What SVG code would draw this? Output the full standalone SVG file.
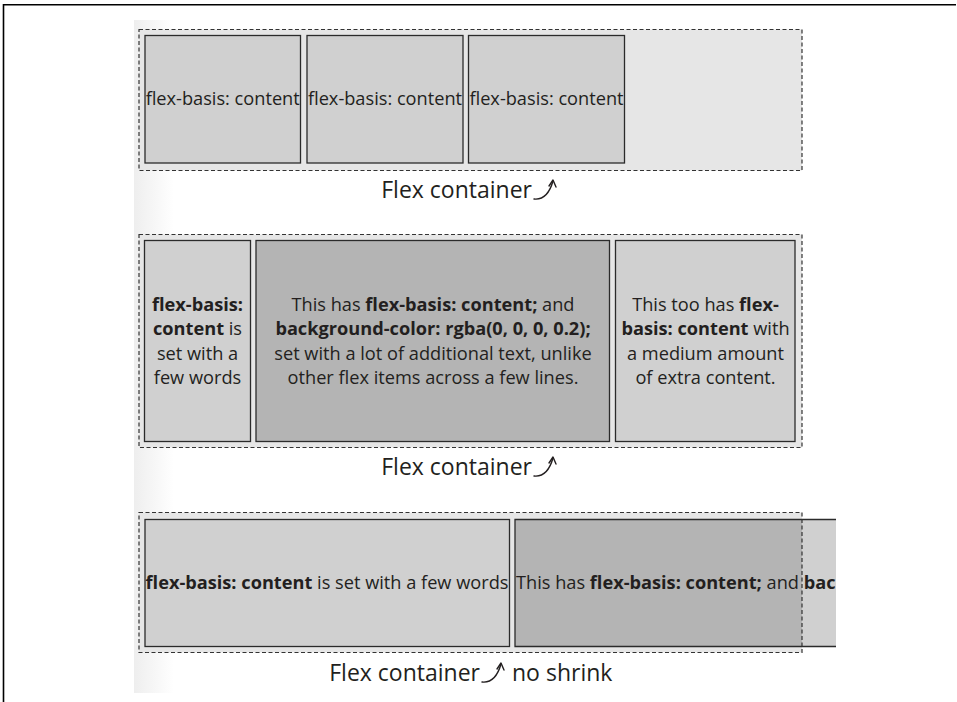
<svg xmlns="http://www.w3.org/2000/svg" width="957" height="702" viewBox="0 0 957 702">
<style>
.cont{fill:#e6e6e6;stroke:none}
.dash{fill:none;stroke:#333;stroke-width:1.2;stroke-dasharray:4 2.5}
.item{fill:#d0d0d0;stroke:#2b2b2b;stroke-width:1.3}
.dark{fill:#b4b4b4}
.t{font-family:"Open Sans","Liberation Sans",sans-serif;font-size:18.2px;fill:#231f20}
.lbl{font-family:"Open Sans","Liberation Sans",sans-serif;font-size:23px;fill:#231f20}
.b{font-weight:bold}
.arr{fill:none;stroke:#231f20;stroke-width:1.4;stroke-linecap:round;stroke-linejoin:round}
</style>
<defs>
<linearGradient id="shade" x1="0" y1="0" x2="1" y2="0">
<stop offset="0" stop-color="#eeeeee"/>
<stop offset="1" stop-color="#ffffff"/>
</linearGradient>
<g id="arrowshape">
<path class="arr" d="M0,0 C9,1 15,-4 19,-18"/>
<path class="arr" d="M15,-13 L19,-19 L22,-12"/>
</g>
</defs>
<rect width="957" height="702" fill="#fff"/>
<rect x="134" y="20" width="40" height="673" fill="url(#shade)"/>
<path d="M3.5,702 V4.8 H956" fill="none" stroke="#000" stroke-width="1.6"/>

<!-- Section 1 -->
<g id="container1">
<rect class="cont" x="139" y="29.5" width="663" height="141"/>
</g>
<g id="item1a"><rect class="item" x="145" y="35.5" width="155.5" height="127.5"/><text class="t" x="222.7" y="104.5" text-anchor="middle">flex-basis: content</text></g>
<g id="item1b"><rect class="item" x="307" y="35.5" width="156" height="127.5"/><text class="t" x="385" y="104.5" text-anchor="middle">flex-basis: content</text></g>
<g id="item1c"><rect class="item" x="468.5" y="35.5" width="156" height="127.5"/><text class="t" x="546.5" y="104.5" text-anchor="middle">flex-basis: content</text></g>
<rect class="dash" x="139" y="29.5" width="663" height="141"/>
<g id="label1"><text class="lbl" x="532" y="198" text-anchor="end">Flex container</text></g>

<!-- Section 2 -->
<g id="container2">
<rect class="cont" x="139" y="234.5" width="663" height="213"/>
</g>
<g id="item2a"><rect class="item" x="144.5" y="240.5" width="106" height="201"/>
<text class="t" text-anchor="middle"><tspan x="197.5" y="311" class="b">flex-basis:</tspan><tspan x="197.5" y="335"><tspan class="b">content</tspan> is</tspan><tspan x="197.5" y="359.5">set with a</tspan><tspan x="197.5" y="383.5">few words</tspan></text></g>
<g id="item2b"><rect class="item dark" x="256" y="240.5" width="353.5" height="201"/>
<text class="t" text-anchor="middle"><tspan x="433" y="311">This has <tspan class="b">flex-basis: content;</tspan> and</tspan><tspan x="433" y="335" class="b">background-color: rgba(0, 0, 0, 0.2);</tspan><tspan x="433" y="359.5">set with a lot of additional text, unlike</tspan><tspan x="433" y="383.5">other flex items across a few lines.</tspan></text></g>
<g id="item2c"><rect class="item" x="615.5" y="240.5" width="179.5" height="201"/>
<text class="t" text-anchor="middle"><tspan x="705.5" y="311">This too has <tspan class="b">flex-</tspan></tspan><tspan x="705.5" y="335"><tspan class="b">basis: content</tspan> with</tspan><tspan x="705.5" y="359.5">a medium amount</tspan><tspan x="705.5" y="383.5">of extra content.</tspan></text></g>
<rect class="dash" x="139" y="234.5" width="663" height="213"/>
<g id="label2"><text class="lbl" x="532" y="475" text-anchor="end">Flex container</text></g>

<!-- Section 3 -->
<g id="container3">
<rect class="cont" x="139" y="512.5" width="663" height="140"/>
</g>
<g id="item3a"><rect class="item" x="145" y="519.5" width="364.5" height="127"/>
<text class="t" x="327" y="588.5" text-anchor="middle"><tspan class="b">flex-basis: content</tspan> is set with a few words</text></g>
<g id="item3b">
<rect x="515" y="519.5" width="287" height="127" fill="#b4b4b4"/>
<rect x="802" y="519.5" width="34" height="127" fill="#d0d0d0"/>
<path d="M836,519.5 H515 V646.5 H836" fill="none" stroke="#2b2b2b" stroke-width="1.3"/>
<text class="t" x="516" y="588.5">This has <tspan class="b">flex-basis: content;</tspan> and <tspan class="b">bac</tspan></text>
</g>
<rect class="dash" x="139" y="512.5" width="663" height="140"/>
<g id="label3"><text class="lbl" x="480" y="681" text-anchor="end">Flex container</text><text class="lbl" x="512" y="681">no shrink</text></g>

<g id="connectors">
<use href="#arrowshape" x="534" y="199"/>
<use href="#arrowshape" x="534" y="476"/>
<use href="#arrowshape" x="482" y="682"/>
</g>
</svg>
